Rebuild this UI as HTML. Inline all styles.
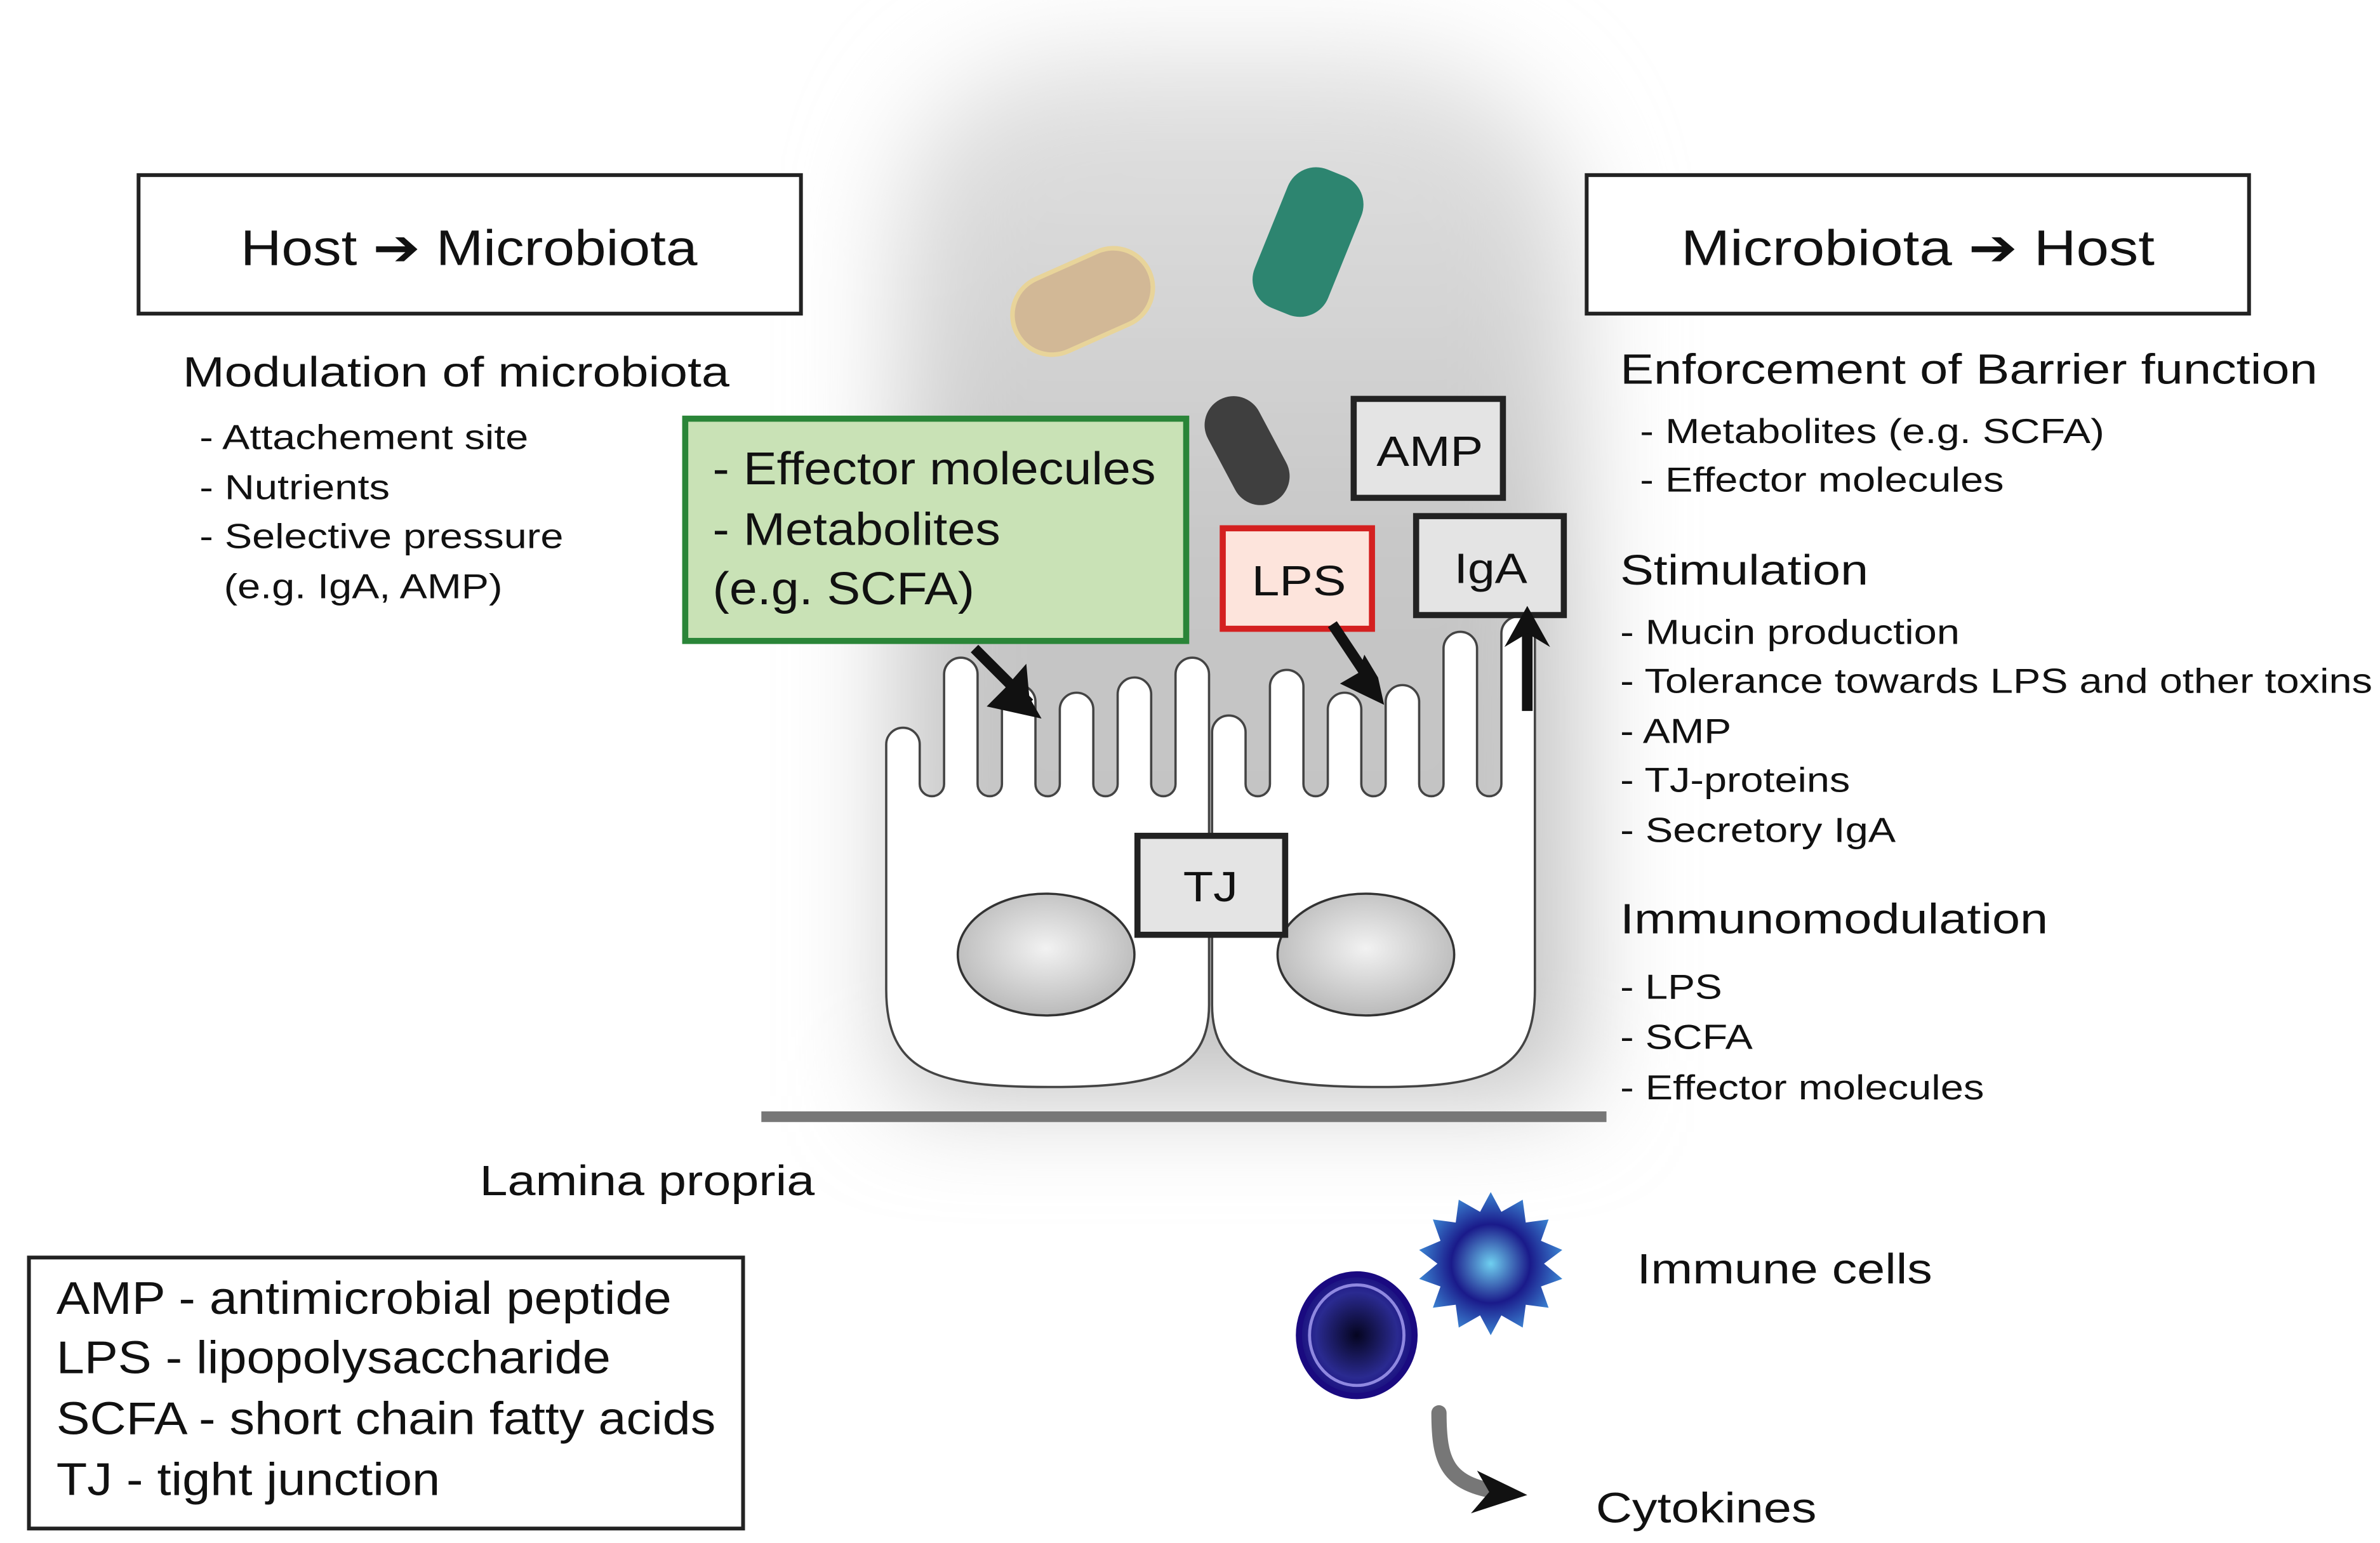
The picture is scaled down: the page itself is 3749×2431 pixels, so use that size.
<!DOCTYPE html>
<html><head><meta charset="utf-8"><style>
html,body{margin:0;padding:0;background:#fff;}
svg{display:block;}
text{font-family:"Liberation Sans",Arial,sans-serif;fill:#111;}
</style></head><body>
<svg width="3749" height="2431" viewBox="0 0 1563 1013.5" xmlns="http://www.w3.org/2000/svg">
<defs>
<filter id="blur" x="-30%" y="-30%" width="160%" height="160%"><feGaussianBlur stdDeviation="35"/></filter>
<radialGradient id="nuc" cx="0.5" cy="0.45" r="0.6"><stop offset="0" stop-color="#f2f2f2"/><stop offset="1" stop-color="#b5b5b5"/></radialGradient>
<radialGradient id="star" cx="0.5" cy="0.5" r="0.5"><stop offset="0" stop-color="#6fd0f0"/><stop offset="0.55" stop-color="#1a1a8a"/><stop offset="1" stop-color="#3a80d0"/></radialGradient>
<radialGradient id="round" cx="0.5" cy="0.5" r="0.5"><stop offset="0" stop-color="#050520"/><stop offset="0.7" stop-color="#2a2a90"/><stop offset="1" stop-color="#1a1080"/></radialGradient>
<linearGradient id="lum" x1="0" y1="0" x2="0" y2="1"><stop offset="0" stop-color="#e2e2e2"/><stop offset="0.5" stop-color="#c6c6c6"/><stop offset="1" stop-color="#c2c2c2"/></linearGradient>
</defs>

<path d="M590,150 Q600,40 720,35 L900,35 Q1030,45 1035,170 L1035,720 L590,720 Z" fill="url(#lum)" filter="url(#blur)"/>

<rect x="663" y="172" width="96" height="52" rx="26" fill="#d2b896" stroke="#e8d49a" stroke-width="3" transform="rotate(-24 711 198)"/>
<rect x="810" y="133" width="98" height="52" rx="20" fill="#2d8570" transform="rotate(-68 859 159)"/>
<rect x="781" y="277" width="76" height="38" rx="19" fill="#3f3f3f" transform="rotate(62 819 296)"/>

<path d="M582,650 L582,489 A11,11 0 0 1 604,489 L604,515 A8,8 0 0 0 620,515 L620,443 A11,11 0 0 1 642,443 L642,515 A8,8 0 0 0 658,515 L658,461 A11,11 0 0 1 680,461 L680,515 A8,8 0 0 0 696,515 L696,466 A11,11 0 0 1 718,466 L718,515 A8,8 0 0 0 734,515 L734,456 A11,11 0 0 1 756,456 L756,515 A8,8 0 0 0 772,515 L772,443 A11,11 0 0 1 794,443 L794,660 C794,705 760,714 690,714 C615,714 582,705 582,650 Z" fill="#fff" stroke="#444" stroke-width="1.5"/>
<path d="M796,660 L796,481 A11,11 0 0 1 818,481 L818,515 A8,8 0 0 0 834,515 L834,451 A11,11 0 0 1 856,451 L856,515 A8,8 0 0 0 872,515 L872,466 A11,11 0 0 1 894,466 L894,515 A8,8 0 0 0 910,515 L910,461 A11,11 0 0 1 932,461 L932,515 A8,8 0 0 0 948,515 L948,426 A11,11 0 0 1 970,426 L970,515 A8,8 0 0 0 986,515 L986,416 A11,11 0 0 1 1008,416 L1008,650 C1008,705 975,714 905,714 C830,714 796,705 796,660 Z" fill="#fff" stroke="#444" stroke-width="1.5"/>

<ellipse cx="687" cy="627" rx="58" ry="40" fill="url(#nuc)" stroke="#333" stroke-width="1.5"/>
<ellipse cx="897" cy="627" rx="58" ry="40" fill="url(#nuc)" stroke="#333" stroke-width="1.5"/>

<rect x="500" y="730" width="555" height="7" fill="#777"/>

<rect x="91" y="115" width="435" height="91" fill="#fff" stroke="#222" stroke-width="2.5"/>
<text x="158" y="174" font-size="33" textLength="300" lengthAdjust="spacingAndGlyphs">Host ➔ Microbiota</text>
<rect x="1042" y="115" width="435" height="91" fill="#fff" stroke="#222" stroke-width="2.5"/>
<text x="1104" y="174" font-size="33" textLength="311" lengthAdjust="spacingAndGlyphs">Microbiota ➔ Host</text>

<rect x="450" y="275" width="329" height="146" fill="#c9e2b6" stroke="#2a8538" stroke-width="4"/>
<text x="468" y="318" font-size="30" textLength="291" lengthAdjust="spacingAndGlyphs">- Effector molecules</text>
<text x="468" y="358" font-size="30" textLength="189" lengthAdjust="spacingAndGlyphs">- Metabolites</text>
<text x="468" y="397" font-size="30" textLength="172" lengthAdjust="spacingAndGlyphs">(e.g. SCFA)</text>

<rect x="889" y="262" width="98" height="65" fill="#e4e4e4" stroke="#222" stroke-width="4"/>
<text x="904" y="306" font-size="28" textLength="70" lengthAdjust="spacingAndGlyphs">AMP</text>
<rect x="803" y="347" width="98" height="66" fill="#fde4dc" stroke="#d42020" stroke-width="4"/>
<text x="822" y="391" font-size="28" textLength="62" lengthAdjust="spacingAndGlyphs">LPS</text>
<rect x="930" y="339" width="97" height="65" fill="#e4e4e4" stroke="#222" stroke-width="4"/>
<text x="955" y="383" font-size="28" textLength="48" lengthAdjust="spacingAndGlyphs">IgA</text>
<rect x="747" y="549" width="97" height="65" fill="#e4e4e4" stroke="#222" stroke-width="4"/>
<text x="777" y="592" font-size="28" textLength="36" lengthAdjust="spacingAndGlyphs">TJ</text>

<g stroke="#111" stroke-width="7" fill="none">
<line x1="640" y1="426" x2="676" y2="462"/>
<line x1="875" y1="410" x2="903" y2="452"/>
<line x1="1003" y1="467" x2="1003" y2="408"/>
</g>
<polygon points="684,472 648,464 660,452 674,436 676,458" fill="#111"/>
<polygon points="909,463 880,449 892,442 896,430 905,445" fill="#111"/>
<polygon points="1003,398 988,425 1003,416 1018,425" fill="#111"/>

<text x="120" y="254" font-size="28" textLength="359" lengthAdjust="spacingAndGlyphs">Modulation of microbiota</text>
<g font-size="23">
<text x="131" y="295" textLength="216" lengthAdjust="spacingAndGlyphs">- Attachement site</text>
<text x="131" y="328" textLength="125" lengthAdjust="spacingAndGlyphs">- Nutrients</text>
<text x="131" y="360" textLength="239" lengthAdjust="spacingAndGlyphs">- Selective pressure</text>
<text x="147" y="393" textLength="183" lengthAdjust="spacingAndGlyphs">(e.g. IgA, AMP)</text>
</g>

<text x="1064" y="252" font-size="28" textLength="458" lengthAdjust="spacingAndGlyphs">Enforcement of Barrier function</text>
<g font-size="23">
<text x="1077" y="291" textLength="305" lengthAdjust="spacingAndGlyphs">- Metabolites (e.g. SCFA)</text>
<text x="1077" y="323" textLength="239" lengthAdjust="spacingAndGlyphs">- Effector molecules</text>
</g>
<text x="1064" y="384" font-size="28" textLength="163" lengthAdjust="spacingAndGlyphs">Stimulation</text>
<g font-size="23">
<text x="1064" y="423" textLength="223" lengthAdjust="spacingAndGlyphs">- Mucin production</text>
<text x="1064" y="455" textLength="494" lengthAdjust="spacingAndGlyphs">- Tolerance towards LPS and other toxins</text>
<text x="1064" y="488" textLength="73" lengthAdjust="spacingAndGlyphs">- AMP</text>
<text x="1064" y="520" textLength="151" lengthAdjust="spacingAndGlyphs">- TJ-proteins</text>
<text x="1064" y="553" textLength="181" lengthAdjust="spacingAndGlyphs">- Secretory IgA</text>
</g>
<text x="1064" y="613" font-size="28" textLength="281" lengthAdjust="spacingAndGlyphs">Immunomodulation</text>
<g font-size="23">
<text x="1064" y="656" textLength="67" lengthAdjust="spacingAndGlyphs">- LPS</text>
<text x="1064" y="689" textLength="87" lengthAdjust="spacingAndGlyphs">- SCFA</text>
<text x="1064" y="722" textLength="239" lengthAdjust="spacingAndGlyphs">- Effector molecules</text>
</g>

<text x="315" y="785" font-size="28" textLength="220" lengthAdjust="spacingAndGlyphs">Lamina propria</text>

<rect x="19" y="826" width="469" height="178" fill="#fff" stroke="#222" stroke-width="2.5"/>
<g font-size="30">
<text x="37" y="863" textLength="404" lengthAdjust="spacingAndGlyphs">AMP - antimicrobial peptide</text>
<text x="37" y="902" textLength="364" lengthAdjust="spacingAndGlyphs">LPS - lipopolysaccharide</text>
<text x="37" y="942" textLength="433" lengthAdjust="spacingAndGlyphs">SCFA - short chain fatty acids</text>
<text x="37" y="982" textLength="252" lengthAdjust="spacingAndGlyphs">TJ - tight junction</text>
</g>

<polygon points="979,783 986,796 1000,788 1002,803 1017,801 1012,815 1026,821 1014,830 1026,840 1012,845 1017,859 1002,857 1000,872 986,864 979,877 972,864 958,872 956,857 941,859 946,845 932,840 944,830 932,821 946,815 941,801 956,803 958,788 972,796" fill="url(#star)"/>
<ellipse cx="891" cy="877" rx="38" ry="40" fill="url(#round)" stroke="#1a0a80" stroke-width="4"/>
<ellipse cx="891" cy="877" rx="31" ry="33" fill="none" stroke="#8f88e0" stroke-width="2"/>
<path d="M945,928 C945,960 950,975 985,980" stroke="#777" stroke-width="10" fill="none" stroke-linecap="round"/>
<polygon points="1003,982 970,966 978,980 966,994" fill="#111"/>
<text x="1075" y="843" font-size="28" textLength="194" lengthAdjust="spacingAndGlyphs">Immune cells</text>
<text x="1048" y="1000" font-size="28" textLength="145" lengthAdjust="spacingAndGlyphs">Cytokines</text>
</svg>
</body></html>
